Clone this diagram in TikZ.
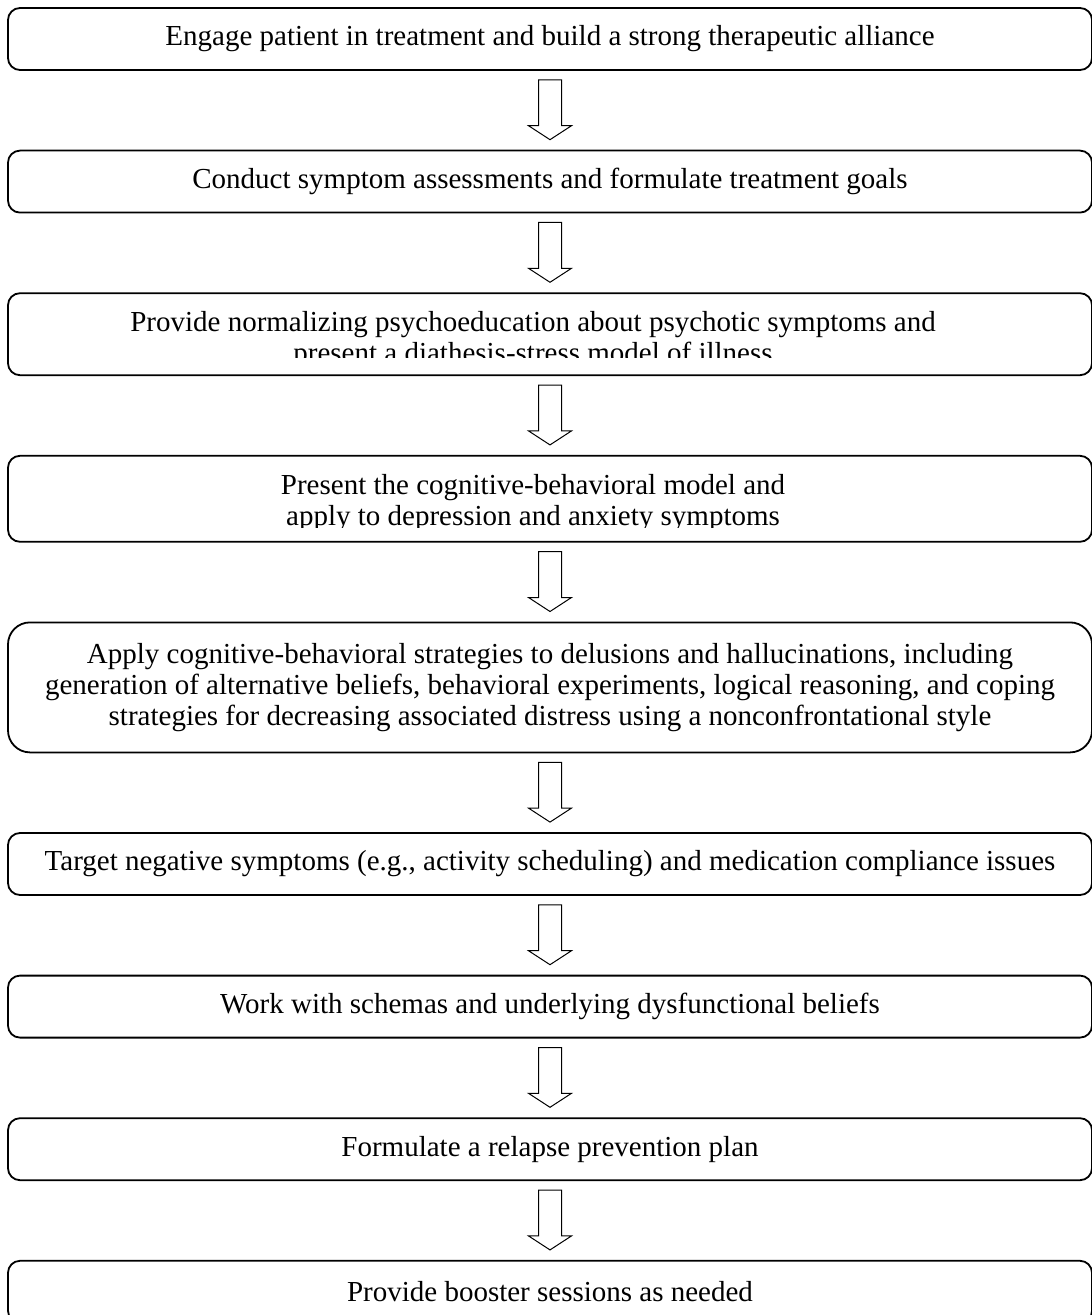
\documentclass[tikz,border=0pt]{standalone}
\usepackage{fontspec}
\setmainfont{Liberation Serif}
\usetikzlibrary{positioning,calc}

% hollow down arrow between two stacked boxes
\newcommand{\flowArrow}[2]{%
  \draw[blockArrow] ($(#1.south)+(-11.5,9)$) -- ($(#2.north)+(-11.5,-24)$)
    -- ($(#2.north)+(-21.5,-24)$) -- ($(#2.north)+(0,-10)$)
    -- ($(#2.north)+(21.5,-24)$) -- ($(#2.north)+(11.5,-24)$)
    -- ($(#1.south)+(11.5,9)$) -- cycle;}

\begin{document}
\begin{tikzpicture}[
  x=0.5pt, y=-0.5pt,
  font=\fontsize{14.5}{15.5}\selectfont,
  node distance=39.4pt,
  stepBox/.style={draw, line width=0.9pt, rounded corners=6pt, fill=white, align=center, inner sep=0pt, minimum width=542pt, minimum height=31pt},
  stepBoxTall/.style={stepBox, rounded corners=11pt, minimum height=65pt},
  cutText/.style={align=center, inner sep=0pt, anchor=north},
  blockArrow/.style={draw, line width=0.5pt, fill=white, line join=miter},
]
\useasboundingbox (0,0) rectangle (1091,1315);

% --- steps ---
\node[stepBox] (engage) at (550,39) {Engage patient in treatment and build a strong therapeutic alliance};
\node[stepBox, below=of engage] (assess) {Conduct symptom assessments and formulate treatment goals};
\node[stepBox, below=of assess, minimum height=41pt] (educate) {};
\node[stepBox, below=of educate, minimum height=43pt] (model) {};
\node[stepBoxTall, below=of model] (strategies) {Apply cognitive-behavioral strategies to delusions and hallucinations, including\\generation of alternative beliefs, behavioral experiments, logical reasoning, and coping\\strategies for decreasing associated distress using a nonconfrontational style};
\node[stepBox, below=of strategies] (negative) {Target negative symptoms (e.g., activity scheduling) and medication compliance issues};
\node[stepBox, below=of negative] (schemas) {Work with schemas and underlying dysfunctional beliefs};
\node[stepBox, below=of schemas] (relapse) {Formulate a relapse prevention plan};
\node[stepBox, below=of relapse] (booster) {Provide booster sessions as needed};

% --- text cut off at the bottom of two boxes ---
\begin{scope}
  \clip (educate.north west) rectangle ($(educate.south east)+(0,-19)$);
  \node[cutText] (educateText) at ($(educate.north)+(-17,19)$) {Provide normalizing psychoeducation about psychotic symptoms and\\present a diathesis-stress model of illness};
\end{scope}
\begin{scope}
  \clip (model.north west) rectangle ($(model.south east)+(0,-15)$);
  \node[cutText] (modelText) at ($(model.north)+(-17,19)$) {Present the cognitive-behavioral model and\\apply to depression and anxiety symptoms};
\end{scope}

% --- arrows ---
\flowArrow{engage}{assess}
\flowArrow{assess}{educate}
\flowArrow{educate}{model}
\flowArrow{model}{strategies}
\flowArrow{strategies}{negative}
\flowArrow{negative}{schemas}
\flowArrow{schemas}{relapse}
\flowArrow{relapse}{booster}

\end{tikzpicture}
\end{document}
